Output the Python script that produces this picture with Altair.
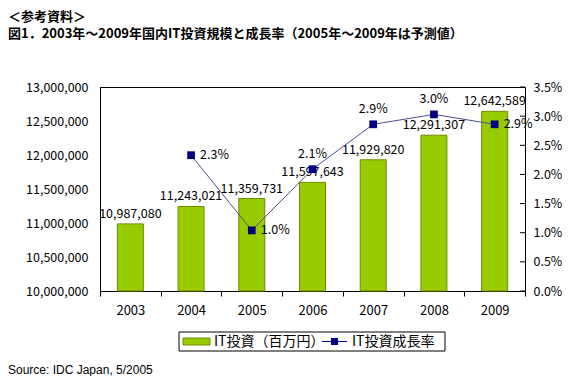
import altair as alt
import pandas as pd

years = ["2003", "2004", "2005", "2006", "2007", "2008", "2009"]
invest = [10987080, 11243021, 11359731, 11597643, 11929820, 12291307, 12642589]
rate_years = ["2004", "2005", "2006", "2007", "2008", "2009"]
rates = [0.0233, 0.0104, 0.0209, 0.0286, 0.0303, 0.0286]
rate_label_right_years = ["2004", "2005", "2009"]
left_ticks = [10000000, 10500000, 11000000, 11500000, 12000000, 12500000, 13000000]
right_ticks = [0.0, 0.005, 0.01, 0.015, 0.02, 0.025, 0.03, 0.035]

title1 = "＜参考資料＞"
title2 = "図1．2003年～2009年国内IT投資規模と成長率（2005年～2009年は予測値）"
legend_bar = "IT投資（百万円）"
legend_line = "IT投資成長率"
source = "Source: IDC Japan, 5/2005"

JP = "Noto Sans CJK JP"
BAR = "#99CC00"
BAR_EDGE = "#6E8C00"
NAVY = "#000080"
LINE = "#4E4E8E"
W, H = 425, 204
FS = 12.5

bar_df = pd.DataFrame({"year": years, "invest": invest})
rate_df = pd.DataFrame({"year": rate_years, "rate": rates})
tick_df = pd.DataFrame({"rate": right_ticks})
one = pd.DataFrame({"a": [0]})

x_enc = alt.X(
    "year:N",
    scale=alt.Scale(domain=years, paddingInner=0, paddingOuter=0),
    axis=alt.Axis(title=None, labelAngle=0, tickBand="extent", tickSize=5,
                  domainColor="black", tickColor="black", labelPadding=8,
                  labelFontSize=13, labelFont=JP, labelColor="black"),
)

yl = alt.Y(
    "invest:Q",
    scale=alt.Scale(domain=[10000000, 13000000], zero=False, nice=False),
    axis=alt.Axis(title=None, format=",d", values=left_ticks, orient="left",
                  labelFont=JP, labelFontSize=FS, labelColor="black",
                  domainColor="black", tickColor="black", tickSize=0,
                  labelPadding=12),
)

bars = alt.Chart(bar_df).mark_bar(size=26, color=BAR, stroke=BAR_EDGE, strokeWidth=1).encode(
    x=x_enc, y=yl, y2=alt.datum(10000000)
)
bar_text = alt.Chart(bar_df).mark_text(dy=-10, font=JP, fontSize=FS, color="black").encode(
    x=x_enc, y=yl, text=alt.Text("invest:Q", format=",d")
)
left = alt.layer(bars, bar_text)

yr = alt.Y(
    "rate:Q",
    scale=alt.Scale(domain=[0, 0.035], nice=False),
    axis=alt.Axis(title=None, format=".1%", values=right_ticks, orient="right",
                  labelFont=JP, labelFontSize=FS, labelColor="black",
                  domainColor="black", tickColor="black", tickSize=0,
                  labelPadding=8),
)
rticks = alt.Chart(tick_df).mark_rule(color="black", strokeWidth=1).encode(
    x=alt.value(W - 5), x2=alt.value(W), y=yr
)
line = alt.Chart(rate_df).mark_line(color=LINE, strokeWidth=1).encode(x=x_enc, y=yr)
pts = alt.Chart(rate_df).mark_point(shape="square", filled=True, color=NAVY, size=60, opacity=1).encode(x=x_enc, y=yr)
rt_right = alt.Chart(rate_df).transform_filter(
    alt.FieldOneOfPredicate(field="year", oneOf=rate_label_right_years)
).mark_text(align="left", dx=9, font=JP, fontSize=FS, color="black").encode(
    x=x_enc, y=yr, text=alt.Text("rate:Q", format=".1%")
)
rt_above = alt.Chart(rate_df).transform_filter(
    ~alt.FieldOneOfPredicate(field="year", oneOf=rate_label_right_years)
).mark_text(dy=-15, font=JP, fontSize=FS, color="black").encode(
    x=x_enc, y=yr, text=alt.Text("rate:Q", format=".1%")
)
right = alt.layer(rticks, line, pts, rt_right, rt_above)

base = alt.Chart(one)
t1 = base.mark_text(align="left", baseline="middle", font=JP, fontSize=13, fontWeight="bold").encode(
    x=alt.value(-92), y=alt.value(-70), text=alt.value(title1))
t2 = base.mark_text(align="left", baseline="middle", font=JP, fontSize=13, fontWeight="bold").encode(
    x=alt.value(-92), y=alt.value(-53.5), text=alt.value(title2))
src = base.mark_text(align="left", baseline="middle", font="Liberation Sans", fontSize=12).encode(
    x=alt.value(-92), y=alt.value(283), text=alt.value(source))
lg_box = base.mark_rect(fill="white", stroke="black", strokeWidth=1).encode(
    x=alt.value(79), x2=alt.value(345), y=alt.value(245), y2=alt.value(264))
lg_sw = base.mark_rect(fill=BAR, stroke=BAR_EDGE, strokeWidth=1).encode(
    x=alt.value(83), x2=alt.value(110), y=alt.value(251), y2=alt.value(258))
lg_t1 = base.mark_text(align="left", baseline="middle", font=JP, fontSize=14).encode(
    x=alt.value(114), y=alt.value(254.5), text=alt.value(legend_bar))
lg_rule = base.mark_rule(color=NAVY, strokeWidth=1).encode(
    x=alt.value(222), x2=alt.value(247), y=alt.value(254.5))
lg_pt = base.mark_point(shape="square", filled=True, color=NAVY, size=50, opacity=1).encode(
    x=alt.value(234.5), y=alt.value(254.5))
lg_t2 = base.mark_text(align="left", baseline="middle", font=JP, fontSize=14).encode(
    x=alt.value(252), y=alt.value(254.5), text=alt.value(legend_line))
deco = alt.layer(t1, t2, src, lg_box, lg_sw, lg_t1, lg_rule, lg_pt, lg_t2)

chart = alt.layer(left, right, deco).resolve_scale(y="independent").properties(
    width=W, height=H, background="white",
    padding={"left": 0, "top": 3, "right": 0, "bottom": 0},
).configure_view(stroke="black", strokeWidth=1).configure_axis(grid=False)

chart.save("out.html", embed_options={"renderer": "svg", "actions": False})
